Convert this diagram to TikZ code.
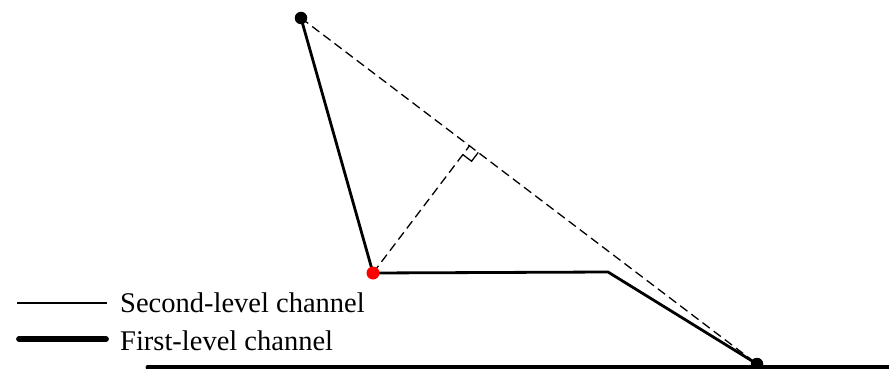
\documentclass[tikz,border=0pt]{standalone}
\usepackage{fontspec}
\setmainfont{Liberation Serif}
\usetikzlibrary{calc}
\begin{document}
\begin{tikzpicture}[x=1pt,y=-1pt,
  chantwo/.style={line width=2.8pt, line join=miter},
  chanone/.style={line width=5.8pt, line cap=round},
  guide/.style={line width=1.3pt, dash pattern=on 9pt off 5pt},
  ramark/.style={line width=1.3pt},
  dot/.style={circle, fill=black, inner sep=0pt, minimum size=12.5pt},
  reddot/.style={circle, fill=red, inner sep=0pt, minimum size=13pt},
  lbl/.style={anchor=base west, inner sep=0pt, font=\fontsize{28.5}{30}\selectfont}]
\useasboundingbox (0,0) rectangle (889,369);
% points
\coordinate (T) at (301,18);
\coordinate (R) at (373,273);
\coordinate (K) at (608,272);
\coordinate (B) at (757,364);
\coordinate (F) at ($(T)!(R)!(B)$);
\coordinate (g1) at (148,367);
\coordinate (g2) at (900,367);
% legend
\coordinate (l1a) at (17,303);
\coordinate (l1b) at (107,303);
\coordinate (l2a) at (19,339);
\coordinate (l2b) at (106,339);
\draw[chantwo] (l1a) -- (l1b);
\draw[chanone] (l2a) -- (l2b);
\node[lbl] (t1) at (120,312) {Second-level channel};
\node[lbl] (t2) at (120,350) {First-level channel};
% first-level channel (ground)
\draw[line width=5pt, line cap=round] (g1) -- (g2);
% dashed guide lines
\draw[guide] (T) -- (B);
\draw[guide] (R) -- (F);
% right-angle mark
\coordinate (m1) at ($(F)!11pt!(R)$);
\coordinate (m2) at ($(F)!11pt!(B)$);
\coordinate (m3) at ($(m1)+(m2)-(F)$);
\draw[ramark] (m1) -- (m3) -- (m2);
% second-level channels
\draw[chantwo] (T) -- (R) -- (K) -- (B);
% dots
\node[dot] (nT) at (T) {};
\node[dot] (nB) at (B) {};
\node[reddot] (nR) at (R) {};
\end{tikzpicture}
\end{document}
